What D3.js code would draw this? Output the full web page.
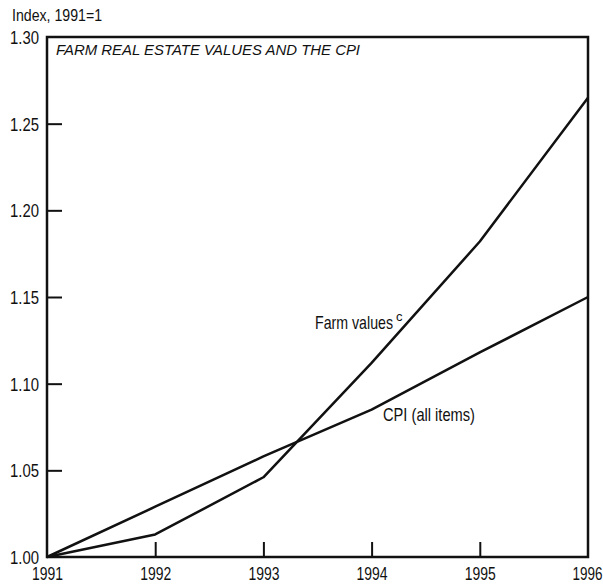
<!DOCTYPE html>
<html>
<head>
<meta charset="utf-8">
<script src="https://cdn.jsdelivr.net/npm/d3@7"></script>
<style>
  html, body { margin: 0; padding: 0; background: #fff; }
  svg { display: block; }
  .lbl { font-family: "Liberation Sans", Arial, sans-serif; fill: #111; }
</style>
</head>
<body>
<svg id="chart" width="603" height="584"></svg>
<script>
const years = [1991, 1992, 1993, 1994, 1995, 1996];
const farmValues = [1.000, 1.013, 1.046, 1.112, 1.182, 1.265];
const cpiValues = [1.000, 1.029, 1.058, 1.085, 1.118, 1.150];
const yTicks = [1.00, 1.05, 1.10, 1.15, 1.20, 1.25, 1.30];
const xTicks = [1991, 1992, 1993, 1994, 1995, 1996];
const title = "FARM REAL ESTATE VALUES AND THE CPI";
const yAxisTitle = "Index, 1991=1";

const svg = d3.select("#chart");
const plotL = 47, plotR = 588, plotT = 37, plotB = 557;

const x = d3.scaleLinear().domain([1991, 1996]).range([plotL, plotR]);
const y = d3.scaleLinear().domain([1.0, 1.3]).range([plotB, plotT]);

// frame
svg.append("rect")
  .attr("x", plotL).attr("y", plotT)
  .attr("width", plotR - plotL).attr("height", plotB - plotT)
  .attr("fill", "#fff").attr("stroke", "#111").attr("stroke-width", 2.5);

// x axis (inward ticks)
const xAxis = d3.axisBottom(x).tickValues(xTicks).tickFormat(d3.format("d")).tickSize(-15);
const gx = svg.append("g").attr("transform", `translate(0,${plotB})`).call(xAxis);
gx.select(".domain").remove();
gx.selectAll(".tick line").attr("stroke", "#111").attr("stroke-width", 2)
  .filter(d => d === 1991 || d === 1996).remove();
gx.selectAll(".tick text").attr("class", "lbl").attr("font-size", 18).attr("dy", 0)
  .attr("y", 23).attr("textLength", 31).attr("lengthAdjust", "spacingAndGlyphs");
gx.selectAll(".tick text").filter(d => d === 1996)
  .attr("text-anchor", "end").attr("x", 602 - x(1996)).attr("textLength", 30);

// y axis (inward ticks)
const yAxis = d3.axisLeft(y).tickValues(yTicks).tickFormat(d3.format(".2f")).tickSize(-15);
const gy = svg.append("g").attr("transform", `translate(${plotL},0)`).call(yAxis);
gy.select(".domain").remove();
gy.selectAll(".tick line").attr("stroke", "#111").attr("stroke-width", 2)
  .filter(d => d === 1.0 || d === 1.3).remove();
gy.selectAll(".tick text").attr("class", "lbl").attr("font-size", 18).attr("x", -8).attr("dy", "0.36em")
  .attr("textLength", 29).attr("lengthAdjust", "spacingAndGlyphs");

// axis title
svg.append("text").attr("class", "lbl").attr("x", 12).attr("y", 21)
  .attr("font-size", 16).attr("textLength", 90).attr("lengthAdjust", "spacingAndGlyphs")
  .text(yAxisTitle);

// chart title
svg.append("text").attr("x", 56).attr("y", 55)
  .attr("font-family", "'Liberation Sans', Arial, sans-serif")
  .attr("font-style", "italic").attr("font-size", 15).attr("fill", "#111")
  .attr("textLength", 304).attr("lengthAdjust", "spacingAndGlyphs")
  .text(title);

// lines
const line = d3.line().x((d, i) => x(years[i])).y(d => y(d));
[farmValues, cpiValues].forEach(vals => {
  svg.append("path").datum(vals)
    .attr("d", line).attr("fill", "none")
    .attr("stroke", "#111").attr("stroke-width", 2.5).attr("stroke-linejoin", "round");
});

// line labels
const farmLbl = svg.append("text").attr("class", "lbl").attr("font-size", 19)
  .attr("x", 315).attr("y", 329);
farmLbl.append("tspan").attr("textLength", 78).attr("lengthAdjust", "spacingAndGlyphs").text("Farm values");
farmLbl.append("tspan").attr("font-size", 13).attr("dx", 3).attr("dy", -8).text("c");

svg.append("text").attr("class", "lbl").attr("font-size", 19)
  .attr("x", 383).attr("y", 421).attr("textLength", 92).attr("lengthAdjust", "spacingAndGlyphs")
  .text("CPI (all items)");
</script>
</body>
</html>
